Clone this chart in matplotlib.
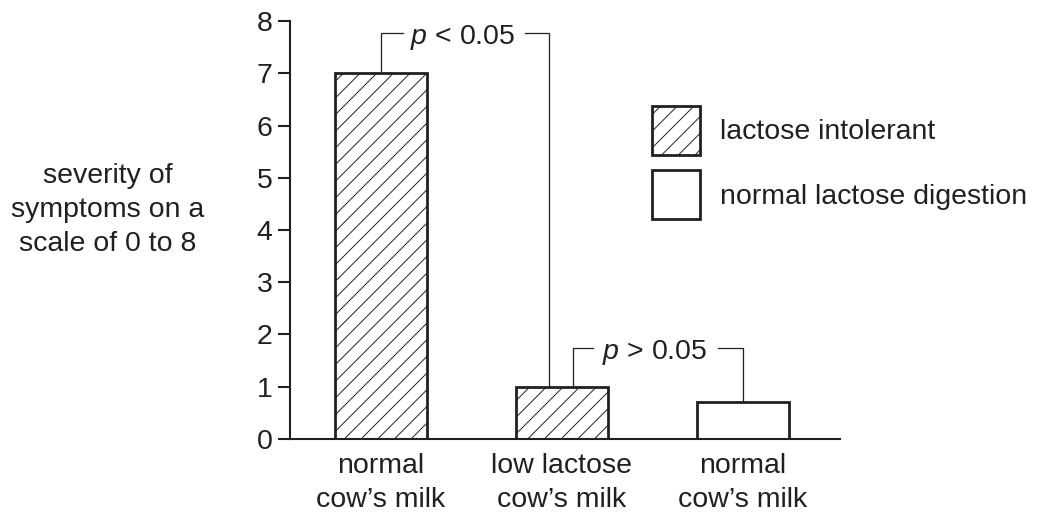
import matplotlib
matplotlib.use('Agg')
import matplotlib.pyplot as plt
from matplotlib.patches import Patch

plt.rcParams['font.family'] = ['Liberation Sans', 'DejaVu Sans']
plt.rcParams['mathtext.fontset'] = 'custom'
plt.rcParams['mathtext.rm'] = 'Liberation Sans'
plt.rcParams['mathtext.it'] = 'Liberation Sans:italic'
plt.rcParams['hatch.linewidth'] = 0.7

ink = '#231f20'
plt.rcParams['hatch.color'] = ink
fs = 20.5

# Datos
categories = ['normal\ncow\u2019s milk', 'low lactose\ncow\u2019s milk', 'normal\ncow\u2019s milk']
severity = [7, 1, 0.7]
groups = ['lactose intolerant', 'lactose intolerant', 'normal lactose digestion']
group_labels = ['lactose intolerant', 'normal lactose digestion']
group_hatch = {'lactose intolerant': '//', 'normal lactose digestion': ''}

# brackets: (x izquierda, x derecha, altura, texto, centro texto, hueco)
brackets = [
    (0, 0.928, 7.77, '$p$ < 0.05', 0.452, (0.12, 0.796)),
    (1.06, 2.0, 1.74, '$p$ > 0.05', 1.514, (1.17, 1.86)),
]

fig = plt.figure(figsize=(10.4, 5.2), dpi=100)
ax = fig.add_axes([0.2788, 0.1558, 0.5289, 0.8038])

x = range(len(categories))
for i in x:
    ax.bar(i, severity[i], width=0.51, facecolor='white', edgecolor=ink,
           linewidth=2, hatch=group_hatch[groups[i]], zorder=2)

# brackets de significancia
for x0, x1, h, txt, xc, gap in brackets:
    top_left = severity[int(round(x0))]
    top_right = severity[int(round(x1))]
    ax.plot([x0, x0, gap[0]], [top_left, h, h], color=ink, lw=0.9,
            solid_joinstyle='miter')
    ax.plot([gap[1], x1, x1], [h, h, top_right], color=ink, lw=0.9,
            solid_joinstyle='miter')
    ax.text(xc, h, txt, ha='center', va='center_baseline', fontsize=fs,
            color=ink)

ax.set_xlim(-0.503, 2.536)
ax.set_ylim(0, 8)
ax.set_yticks(range(0, 9))
ax.set_xticks(list(x))
ax.set_xticklabels(categories, fontsize=fs, color=ink, linespacing=1.42)
ax.tick_params(axis='x', length=0, pad=10)
ax.tick_params(axis='y', length=8.6, width=1.5, labelsize=fs,
               colors=ink, pad=4)
for s in ['top', 'right']:
    ax.spines[s].set_visible(False)
for s in ['left', 'bottom']:
    ax.spines[s].set_linewidth(1.5)
    ax.spines[s].set_color(ink)

ax.set_ylabel('severity of\nsymptoms on a\nscale of 0 to 8', rotation=0,
              ha='center', va='center', fontsize=fs, color=ink,
              linespacing=1.42)
ax.yaxis.set_label_coords(-0.331, 0.548)

handles = [Patch(facecolor='white', edgecolor=ink, linewidth=2,
                 hatch=group_hatch[g]) for g in group_labels]
leg = fig.legend(handles, group_labels, loc='upper left',
                 bbox_to_anchor=(652 / 1040, 1 - 106 / 520), frameon=False,
                 fontsize=fs, handlelength=1.68, handleheight=2.28,
                 labelspacing=0.53, handletextpad=0.7, borderpad=0,
                 borderaxespad=0)
for t in leg.get_texts():
    t.set_color(ink)

fig.savefig('out.png', dpi=100)
